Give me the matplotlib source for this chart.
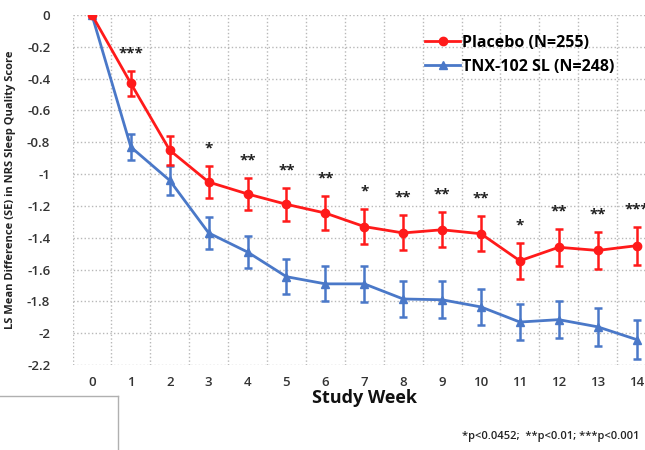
import matplotlib
matplotlib.use("Agg")
import matplotlib.pyplot as plt
import numpy as np
from matplotlib.lines import Line2D

weeks = list(range(15))
placebo = [0, -0.43, -0.85, -1.05, -1.125, -1.19, -1.245, -1.33, -1.37, -1.35,
           -1.375, -1.545, -1.46, -1.48, -1.45]
placebo_se = [0, 0.08, 0.09, 0.10, 0.10, 0.105, 0.105, 0.11, 0.11, 0.11,
              0.11, 0.115, 0.115, 0.115, 0.12]
tnx = [0, -0.83, -1.04, -1.37, -1.49, -1.645, -1.69, -1.69, -1.785, -1.79,
       -1.835, -1.93, -1.915, -1.96, -2.04]
tnx_se = [0, 0.08, 0.09, 0.10, 0.10, 0.11, 0.11, 0.115, 0.115, 0.115,
          0.115, 0.115, 0.115, 0.12, 0.12]
stars = ['', '***', '', '*', '**', '**', '**', '*', '**', '**', '**', '*',
         '**', '**', '***']
y_ticks = [0, -0.2, -0.4, -0.6, -0.8, -1, -1.2, -1.4, -1.6, -1.8, -2, -2.2]

red = '#ff1a1a'
blue = '#4a78c8'
font = ['Open Sans', 'DejaVu Sans']

fig = plt.figure(figsize=(6.45, 4.5), dpi=100)
ax = fig.add_axes([72.5 / 645, 85 / 450, 583.5 / 645, 350 / 450])

ax.errorbar(weeks, placebo, yerr=placebo_se, color=red, lw=2, marker='o',
            ms=6, capsize=3, elinewidth=1.8, capthick=1.8, zorder=4)
ax.errorbar(weeks, tnx, yerr=tnx_se, color=blue, lw=2, marker='^',
            ms=6, capsize=3, elinewidth=1.8, capthick=1.8, zorder=3)

# significance marks above the placebo whiskers
for w, s in zip(weeks, stars):
    if s:
        ax.text(w, placebo[w] + placebo_se[w] + 0.11, s, ha='center',
                va='center', fontsize=11, fontweight='bold', color='#222222',
                family=font)

ax.set_xlim(-0.5, 14.5)
ax.set_ylim(-2.2, 0)
ax.set_xticks(weeks)
ax.set_xticks(np.arange(-0.5, 15, 1), minor=True)
ax.set_yticks(y_ticks)
ax.set_yticklabels([f'{v:g}' for v in y_ticks])
ax.grid(which='minor', axis='x', color='#b8b8b8', ls=':', lw=1)
ax.grid(which='major', axis='y', color='#b8b8b8', ls=':', lw=1)
ax.tick_params(which='both', length=0)
ax.tick_params(axis='y', pad=16)
ax.tick_params(axis='x', pad=8)
for lab in ax.get_xticklabels() + ax.get_yticklabels():
    lab.set_family(font)
    lab.set_fontsize(9.5)
    lab.set_fontweight('semibold')
    lab.set_color('#333333')
for sp in ax.spines.values():
    sp.set_visible(False)

ax.set_xlabel('Study Week', fontsize=13, fontweight='bold', family=font,
              color='#111111', labelpad=0)
ax.set_ylabel('LS Mean Difference (SE) in NRS Sleep Quality Score',
              fontsize=8, fontweight='bold', family=font, color='#222222',
              labelpad=8)

handles = [Line2D([], [], color=red, lw=2, marker='o', ms=6),
           Line2D([], [], color=blue, lw=2, marker='^', ms=6)]
leg = ax.legend(handles, ['Placebo (N=255)', 'TNX-102 SL (N=248)'],
                loc='upper left', bbox_to_anchor=(0.58, 0.985), frameon=False,
                handlelength=2.2, handletextpad=0.1, labelspacing=0.5,
                prop={'family': font, 'size': 11.5, 'weight': 'bold'})

fig.text(0.992, 0.03, '*p<0.0452;  **p<0.01; ***p<0.001', ha='right',
         va='center', fontsize=8, fontweight='semibold', family=font,
         color='#222222')

# thin box outline in the lower left corner
fig.add_artist(Line2D([0, 118 / 645], [54 / 450, 54 / 450], color='#b0b0b0',
                      lw=1, transform=fig.transFigure))
fig.add_artist(Line2D([118 / 645, 118 / 645], [0, 54 / 450], color='#b0b0b0',
                      lw=1, transform=fig.transFigure))

fig.savefig('out.png', dpi=100)
